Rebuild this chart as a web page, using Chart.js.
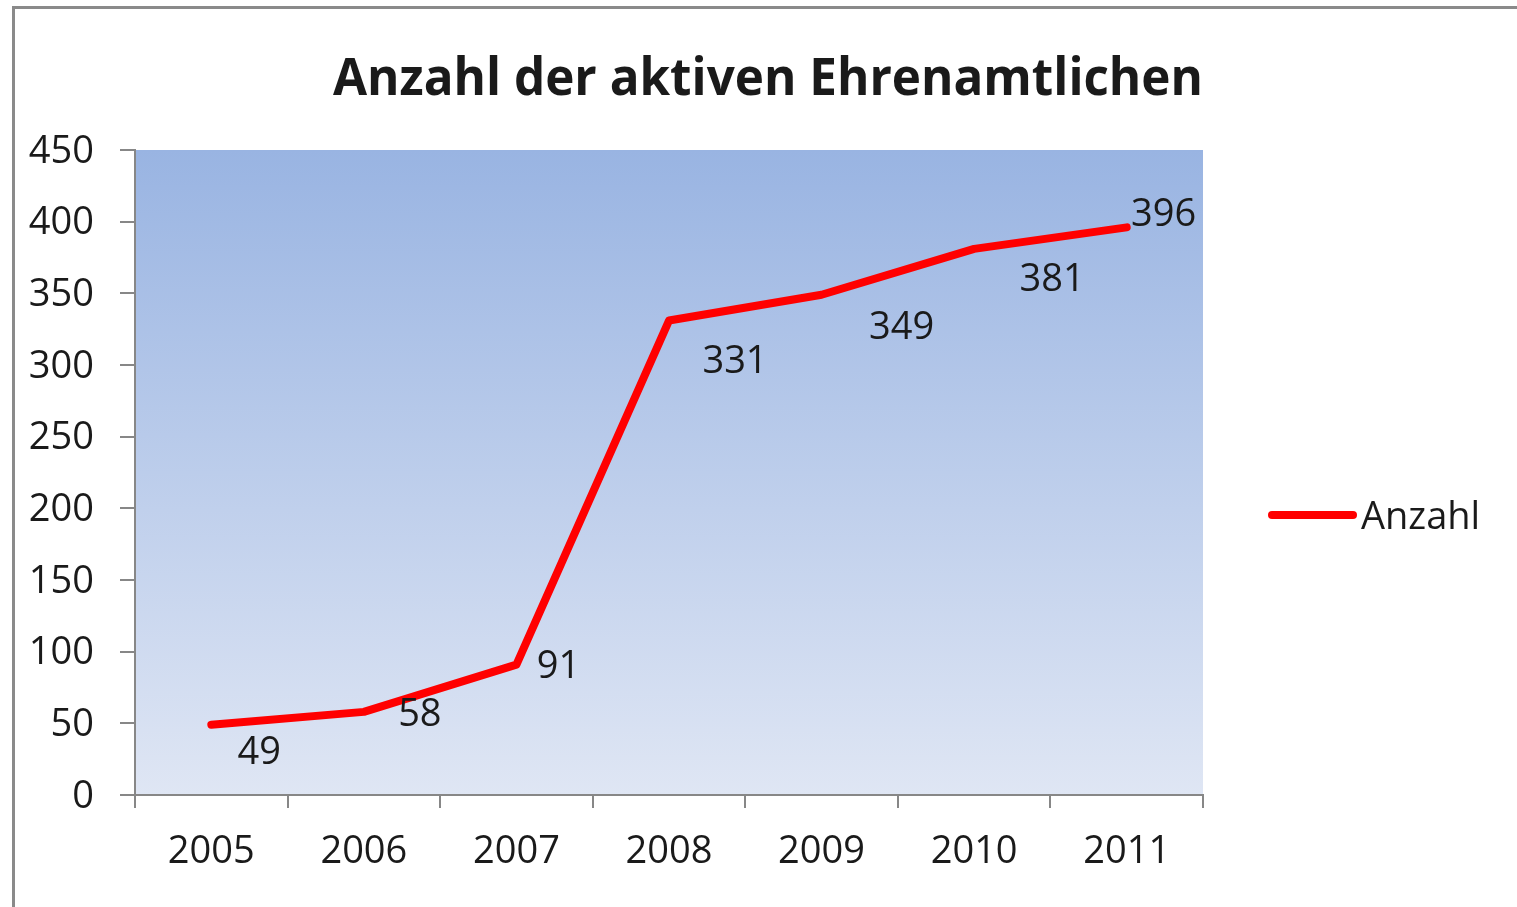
<!DOCTYPE html>
<html>
<head>
<meta charset="utf-8">
<title>Anzahl der aktiven Ehrenamtlichen</title>
<script src="https://cdn.jsdelivr.net/npm/chart.js@4.4.1/dist/chart.umd.min.js"></script>
<style>
  html, body { margin: 0; padding: 0; background: #fff; overflow: hidden; }
  canvas { display: block; }
</style>
</head>
<body>
<canvas id="chart" width="1517" height="907"></canvas>
<script>
const chartTitle = 'Anzahl der aktiven Ehrenamtlichen';
const seriesName = 'Anzahl';
const years = ['2005', '2006', '2007', '2008', '2009', '2010', '2011'];
const counts = [49, 58, 91, 331, 349, 381, 396];
const yTicks = [0, 50, 100, 150, 200, 250, 300, 350, 400, 450];

const FONT = '"Open Sans", "Noto Sans", sans-serif';
const TEXT = '#1a1a1a';
const AXIS = '#878787';

// where each value label sits relative to its point (like Excel's placement)
const labelShift = [[48, 28], [56, 3], [42, 3], [66, 42], [80, 33], [78, 31], [37, -12]];

const frame = {
  id: 'frame',
  beforeDraw(chart) {
    const { ctx, chartArea: a } = chart;
    ctx.save();
    ctx.strokeStyle = '#8a8a8a';
    ctx.lineWidth = 3;
    ctx.beginPath();
    ctx.moveTo(13.5, chart.height + 2);
    ctx.lineTo(13.5, 7.5);
    ctx.lineTo(chart.width + 2, 7.5);
    ctx.stroke();
    const g = ctx.createLinearGradient(0, a.top, 0, a.bottom);
    g.addColorStop(0, '#99b4e2');
    g.addColorStop(1, '#dfe6f4');
    ctx.fillStyle = g;
    ctx.fillRect(a.left, a.top, a.right - a.left, a.bottom - a.top);
    ctx.restore();
  }
};

const extras = {
  id: 'extras',
  afterDatasetsDraw(chart) {
    const { ctx } = chart;
    const ds = chart.data.datasets[0];
    const meta = chart.getDatasetMeta(0);
    ctx.save();
    ctx.fillStyle = TEXT;
    ctx.font = '38px ' + FONT;
    ctx.textAlign = 'center';
    ctx.textBaseline = 'middle';
    meta.data.forEach((pt, i) => {
      const s = labelShift[i];
      ctx.fillText(String(ds.data[i]), pt.x + s[0], pt.y + s[1]);
    });

    // legend
    ctx.strokeStyle = ds.borderColor;
    ctx.lineWidth = 8;
    ctx.lineCap = 'round';
    ctx.beginPath();
    ctx.moveTo(1272, 515);
    ctx.lineTo(1353, 515);
    ctx.stroke();
    ctx.textAlign = 'left';
    ctx.fillText(ds.label, 1361, 518);

    // title
    ctx.font = 'bold 52px ' + FONT;
    ctx.textAlign = 'center';
    ctx.textBaseline = 'alphabetic';
    const w = ctx.measureText(chartTitle).width;
    ctx.translate(768, 95);
    ctx.scale(870 / w, 1);
    ctx.fillText(chartTitle, 0, 0);
    ctx.restore();
  }
};

new Chart(document.getElementById('chart'), {
  type: 'line',
  data: {
    labels: years,
    datasets: [{
      label: seriesName,
      data: counts,
      borderColor: '#ff0000',
      borderWidth: 8,
      borderJoinStyle: 'round',
      borderCapStyle: 'round',
      pointRadius: 0,
      tension: 0,
      fill: false
    }]
  },
  options: {
    responsive: false,
    animation: false,
    layout: { padding: { top: 150, right: 314, bottom: 0, left: 0 } },
    plugins: {
      legend: { display: false },
      title: { display: false },
      tooltip: { enabled: false }
    },
    scales: {
      x: {
        offset: true,
        afterFit: (s) => { s.height = 112; },
        grid: { offset: true, drawOnChartArea: false, tickLength: 13, color: AXIS, lineWidth: 2 },
        border: { color: AXIS, width: 2 },
        ticks: { color: TEXT, font: { family: FONT, size: 38 }, padding: 21, maxRotation: 0 }
      },
      y: {
        min: 0,
        max: 450,
        afterFit: (s) => { s.width = 135; },
        afterBuildTicks: (s) => { s.ticks = yTicks.map((v) => ({ value: v })); },
        grid: { drawOnChartArea: false, tickLength: 15, color: AXIS, lineWidth: 2 },
        border: { color: AXIS, width: 2 },
        ticks: { color: TEXT, font: { family: FONT, size: 38 }, padding: 26, labelOffset: 2 }
      }
    }
  },
  plugins: [frame, extras]
});
</script>
</body>
</html>
